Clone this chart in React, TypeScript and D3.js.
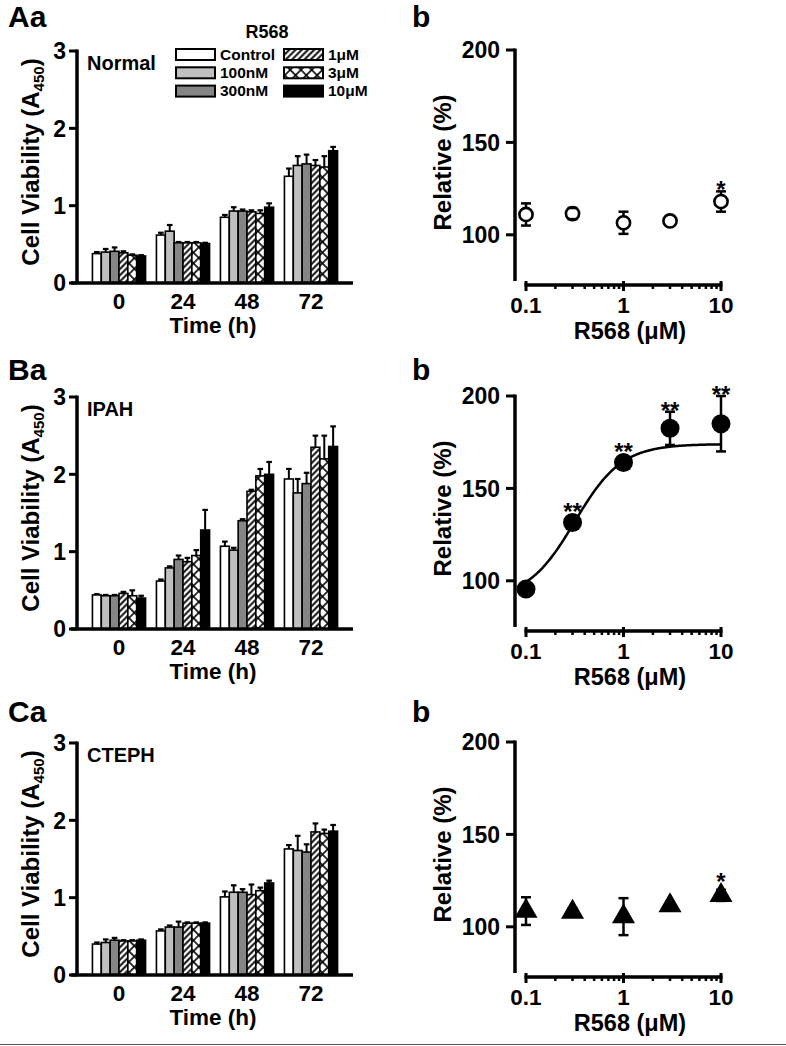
import React from "react";
import * as d3 from "d3";

// ---------- data ----------
const timeLabels = ["0", "24", "48", "72"];
const seriesNames = ["Control", "100nM", "300nM", "1μM", "3μM", "10μM"];

const normalMeans = [
  [0.38, 0.40, 0.41, 0.39, 0.36, 0.35],
  [0.62, 0.67, 0.52, 0.52, 0.52, 0.51],
  [0.85, 0.93, 0.93, 0.92, 0.90, 0.98],
  [1.38, 1.52, 1.54, 1.52, 1.50, 1.71],
];
const normalErrs = [
  [0.02, 0.04, 0.05, 0.02, 0.01, 0.01],
  [0.03, 0.08, 0.01, 0.01, 0.01, 0.01],
  [0.03, 0.05, 0.02, 0.02, 0.04, 0.05],
  [0.10, 0.12, 0.12, 0.07, 0.14, 0.05],
];
const ipahMeans = [
  [0.44, 0.43, 0.43, 0.46, 0.43, 0.40],
  [0.62, 0.79, 0.90, 0.87, 0.95, 1.28],
  [1.07, 1.02, 1.40, 1.78, 1.98, 2.00],
  [1.94, 1.76, 1.88, 2.35, 2.20, 2.36],
];
const ipahErrs = [
  [0.01, 0.01, 0.01, 0.02, 0.07, 0.03],
  [0.02, 0.02, 0.05, 0.05, 0.07, 0.26],
  [0.06, 0.03, 0.02, 0.02, 0.09, 0.16],
  [0.13, 0.18, 0.14, 0.15, 0.30, 0.26],
];
const ctephMeans = [
  [0.40, 0.42, 0.45, 0.44, 0.44, 0.45],
  [0.57, 0.62, 0.62, 0.67, 0.67, 0.67],
  [1.01, 1.07, 1.07, 1.04, 1.09, 1.19],
  [1.63, 1.61, 1.59, 1.85, 1.83, 1.86],
];
const ctephErrs = [
  [0.02, 0.04, 0.03, 0.01, 0.01, 0.01],
  [0.02, 0.02, 0.07, 0.01, 0.01, 0.01],
  [0.07, 0.09, 0.04, 0.13, 0.04, 0.03],
  [0.05, 0.19, 0.10, 0.11, 0.05, 0.08],
];

const barYTicks = [0, 1, 2, 3];

const doses = [0.1, 0.3, 1, 3, 10];
const doseTicks = [0.1, 1, 10];
const relYTicks = [100, 150, 200];

const normalRel = [111, 111.5, 106.5, 107.5, 118];
const normalRelErr = [6, 3, 6, 2, 5.5];
const normalSig = ["", "", "", "", "*"];

const ipahRel = [95.5, 131.5, 164, 182.5, 185];
const ipahRelErr = [2, 2, 2, 9, 15];
const ipahSig = ["", "**", "**", "**", "**"];

const ctephRel = [108.5, 108, 105.5, 111.5, 117];
const ctephRelErr = [7.5, 2, 10, 2, 3];
const ctephSig = ["", "", "", "", "*"];

// fitted dose-response curve (IPAH)
const fitBottom = 90;
const fitTop = 174;
const fitLogEC50 = -0.5;
const fitHill = 1.8;

// ---------- styling ----------
const FONT = "'Liberation Sans', Arial, Helvetica, sans-serif";
const fills = ["#ffffff", "#c0c0c0", "#858585", "url(#diag)", "url(#cross)", "#000000"];

const rowOffsets = [0, 346, 692];
const labelBaselines = [27, 380, 722];

function BarPanel({ row, means, errs, letter, subtitle, legend }) {
  const off = rowOffsets[row];
  const y = d3.scaleLinear().domain([0, 3]).range([283 + off, 51 + off]);
  const xg = d3.scaleBand().domain(timeLabels).range([87, 343]).paddingInner(0.17).paddingOuter(0.085);
  const xs = d3.scaleBand().domain(seriesNames).range([0, xg.bandwidth()]);
  const axisX = 77;
  const y0 = y(0);
  const w = xs.bandwidth();
  return (
    <g>
      <text x={8} y={labelBaselines[row]} fontSize={30} fontWeight="bold">{letter}</text>
      {timeLabels.map((t, gi) =>
        seriesNames.map((s, si) => {
          const v = means[gi][si];
          const e = errs[gi][si];
          const x = xg(t) + xs(s);
          const yt = y(v);
          const ye = y(v + e);
          const cx = x + w / 2;
          return (
            <g key={t + s}>
              <line x1={cx} x2={cx} y1={yt} y2={ye} stroke="#000" strokeWidth={2} />
              <line x1={cx - 2.8} x2={cx + 2.8} y1={ye} y2={ye} stroke="#000" strokeWidth={2.2} />
              <rect x={x} y={yt} width={w} height={y0 - yt} fill={fills[si]} stroke="#000" strokeWidth={1.6} />
            </g>
          );
        })
      )}
      <line x1={axisX} x2={axisX} y1={y(3) - 1.5} y2={y0} stroke="#000" strokeWidth={3.5} />
      <line x1={71} x2={353} y1={y0} y2={y0} stroke="#000" strokeWidth={3.5} />
      {barYTicks.map((t) => (
        <g key={t}>
          <line x1={axisX - 8} x2={axisX} y1={y(t)} y2={y(t)} stroke="#000" strokeWidth={3} />
          <text x={66} y={y(t)} dy="0.36em" textAnchor="end" fontSize={23} fontWeight="bold">{t}</text>
        </g>
      ))}
      {timeLabels.map((t) => (
        <text key={t} x={xg(t) + xg.bandwidth() / 2} y={y0 + 26} textAnchor="middle" fontSize={22.5} fontWeight="bold">{t}</text>
      ))}
      <text x={213} y={y0 + 50} textAnchor="middle" fontSize={22.5} fontWeight="bold">Time (h)</text>
      <text transform={`translate(39, ${(y(3) + y0) / 2 - 5}) rotate(-90)`} textAnchor="middle" fontSize={24} fontWeight="bold">
        Cell Viability (A<tspan fontSize={15} dy={5}>450</tspan><tspan dy={-5}>)</tspan>
      </text>
      <text x={87} y={y(3) + 19} fontSize={20} fontWeight="bold">{subtitle}</text>
      {legend && (
        <g>
          <text x={267} y={38} textAnchor="middle" fontSize={18} fontWeight="bold">R568</text>
          {seriesNames.map((s, i) => {
            const col = Math.floor(i / 3);
            const r = i % 3;
            const bx = col === 0 ? 176 : 284;
            const by = 49 + r * 18.3;
            return (
              <g key={s}>
                <rect x={bx} y={by} width={39} height={11} fill={fills[i]} stroke="#000" strokeWidth={2} />
                <text x={bx + 44} y={by + 10.5} fontSize={15.5} fontWeight="bold">{s}</text>
              </g>
            );
          })}
        </g>
      )}
    </g>
  );
}

function DosePanel({ row, values, errs, sig, marker, fit }) {
  const off = rowOffsets[row];
  const y = d3.scaleLinear().domain([75, 200]).range([281 + off, 50 + off]);
  const x = d3.scaleLog().domain([0.1, 10]).range([526, 721]);
  const axisX = 515;
  const axisY = 285 + off;
  const minor = [];
  [0.1, 1].forEach((dec) => {
    for (let k = 2; k <= 9; k++) minor.push(dec * k);
  });
  let curve = null;
  if (fit) {
    const pts = d3.range(0, 201).map((i) => {
      const lx = -1 + (2 * i) / 200;
      const v = fitBottom + (fitTop - fitBottom) / (1 + Math.pow(10, (fitLogEC50 - lx) * fitHill));
      return [x(Math.pow(10, lx)), y(v)];
    });
    curve = d3.line()(pts);
  }
  const tri = d3.symbol(d3.symbolTriangle, 230)();
  return (
    <g>
      <text x={412} y={labelBaselines[row]} fontSize={30} fontWeight="bold">b</text>
      <line x1={axisX} x2={axisX} y1={y(200) - 1.5} y2={y(75)} stroke="#000" strokeWidth={3.5} />
      {relYTicks.map((t) => (
        <g key={t}>
          <line x1={axisX - 9} x2={axisX} y1={y(t)} y2={y(t)} stroke="#000" strokeWidth={3} />
          <text x={500} y={y(t)} dy="0.36em" textAnchor="end" fontSize={23} fontWeight="bold">{t}</text>
        </g>
      ))}
      <line x1={x(0.1) - 1.5} x2={x(10) + 1.5} y1={axisY} y2={axisY} stroke="#000" strokeWidth={3.5} />
      {doseTicks.map((t) => (
        <g key={t}>
          <line x1={x(t)} x2={x(t)} y1={axisY - 4} y2={axisY + 6} stroke="#000" strokeWidth={3} />
          <text x={x(t)} y={axisY + 28} textAnchor="middle" fontSize={22.5} fontWeight="bold">{t}</text>
        </g>
      ))}
      {minor.map((t) => (
        <line key={t} x1={x(t)} x2={x(t)} y1={axisY} y2={axisY + 4} stroke="#000" strokeWidth={2.5} />
      ))}
      <text x={630} y={axisY + 54} textAnchor="middle" fontSize={23.5} fontWeight="bold">R568 (μM)</text>
      <text transform={`translate(451, ${(y(200) + y(75)) / 2 - 3}) rotate(-90)`} textAnchor="middle" fontSize={24} fontWeight="bold">Relative (%)</text>
      {curve && <path d={curve} fill="none" stroke="#000" strokeWidth={2.5} />}
      {doses.map((d, i) => {
        const cx = x(d);
        const cy = y(values[i]);
        const yt = y(values[i] + errs[i]);
        const yb = y(values[i] - errs[i]);
        const markerTop = marker === "tri" ? cy - 12 : marker === "filled" ? cy - 9.5 : cy - 8;
        const top = Math.min(yt, markerTop);
        const capsOnTop = cy - yt >= 4;
        const caps = (
          <g>
            <line x1={cx - 5} x2={cx + 5} y1={yt} y2={yt} stroke="#000" strokeWidth={2.5} />
            <line x1={cx - 5} x2={cx + 5} y1={yb} y2={yb} stroke="#000" strokeWidth={2.5} />
          </g>
        );
        return (
          <g key={d}>
            <line x1={cx} x2={cx} y1={yt} y2={yb} stroke="#000" strokeWidth={2.5} />
            {!capsOnTop && caps}
            {marker === "open" && <circle cx={cx} cy={cy} r={6.6} fill="#fff" stroke="#000" strokeWidth={2.6} />}
            {marker === "filled" && <circle cx={cx} cy={cy} r={9.5} fill="#000" />}
            {marker === "tri" && <path d={tri} transform={`translate(${cx}, ${cy})`} fill="#000" />}
            {capsOnTop && caps}
            {sig[i] && (
              <text x={cx} y={top + 7} textAnchor="middle" fontSize={24} fontWeight="bold">{sig[i]}</text>
            )}
          </g>
        );
      })}
    </g>
  );
}

export default function App() {
  return (
    <svg
      width={786}
      height={1046}
      viewBox="0 0 786 1046"
      style={{ position: "absolute", left: 0, top: 0, background: "#fff" }}
      fontFamily={FONT}
    >
      <defs>
        <pattern id="diag" patternUnits="userSpaceOnUse" width={4.4} height={4.4} patternTransform="rotate(45)">
          <rect width={4.4} height={4.4} fill="#fff" />
          <line x1={2.2} x2={2.2} y1={0} y2={4.4} stroke="#000" strokeWidth={1.9} />
        </pattern>
        <pattern id="cross" patternUnits="userSpaceOnUse" width={7.6} height={7.6} patternTransform="rotate(45)">
          <rect width={7.6} height={7.6} fill="#fff" />
          <line x1={3.8} x2={3.8} y1={0} y2={7.6} stroke="#000" strokeWidth={1.6} />
          <line x1={0} x2={7.6} y1={3.8} y2={3.8} stroke="#000" strokeWidth={1.6} />
        </pattern>
      </defs>
      <rect width={786} height={1046} fill="#fff" />
      <BarPanel row={0} means={normalMeans} errs={normalErrs} letter="Aa" subtitle="Normal" legend />
      <BarPanel row={1} means={ipahMeans} errs={ipahErrs} letter="Ba" subtitle="IPAH" legend={false} />
      <BarPanel row={2} means={ctephMeans} errs={ctephErrs} letter="Ca" subtitle="CTEPH" legend={false} />
      <DosePanel row={0} values={normalRel} errs={normalRelErr} sig={normalSig} marker="open" fit={false} />
      <DosePanel row={1} values={ipahRel} errs={ipahRelErr} sig={ipahSig} marker="filled" fit />
      <DosePanel row={2} values={ctephRel} errs={ctephRelErr} sig={ctephSig} marker="tri" fit={false} />
      <line x1={0} x2={786} y1={1044.5} y2={1044.5} stroke="#555" strokeWidth={1.2} />
    </svg>
  );
}
